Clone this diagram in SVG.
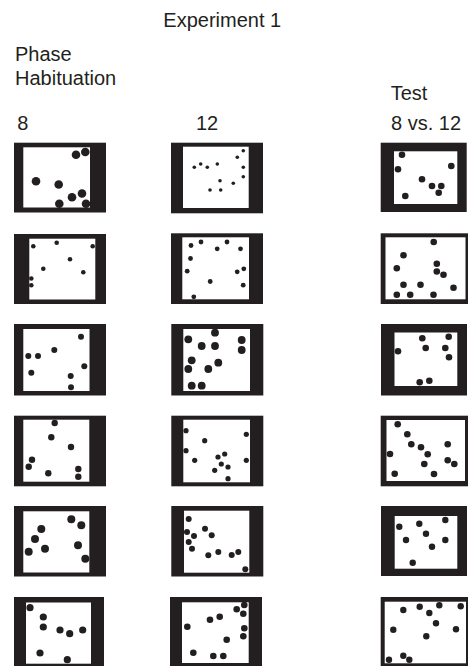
<svg xmlns="http://www.w3.org/2000/svg" width="468" height="666" viewBox="0 0 468 666">
<style>
.lbl{font-family:"Liberation Sans",Arial,Helvetica,sans-serif;font-size:20px;fill:#231f20}
.frame{fill:#231f20}
.field{fill:#ffffff}
.dot{fill:#231f20}
</style>
<rect width="468" height="666" fill="#ffffff"/>
<g id="labels">
<text class="lbl" x="163.3" y="26.5">Experiment 1</text>
<text class="lbl" x="15" y="61">Phase</text>
<text class="lbl" x="15" y="85">Habituation</text>
<text class="lbl" x="390.7" y="100">Test</text>
<text class="lbl" x="17.3" y="130">8</text>
<text class="lbl" x="196" y="130">12</text>
<text class="lbl" x="391" y="130">8 vs. 12</text>
</g>
<g id="connectors"/>
<!-- Row 1 -->
<g id="hab8-1">
<rect class="frame" x="14" y="142.7" width="92" height="69.8"/>
<rect class="field" x="23.3" y="147.3" width="66.7" height="60.2"/>
<circle class="dot" cx="76" cy="154.7" r="4.3"/><circle class="dot" cx="85.3" cy="152" r="4.3"/>
<circle class="dot" cx="36" cy="181.3" r="4.3"/><circle class="dot" cx="58.7" cy="184.5" r="4.3"/>
<circle class="dot" cx="82" cy="193.5" r="4.3"/><circle class="dot" cx="72" cy="197.2" r="4.3"/>
<circle class="dot" cx="59.3" cy="203.8" r="4.3"/><circle class="dot" cx="86" cy="203.8" r="4.3"/>
</g>
<g id="hab12-1">
<rect class="frame" x="171" y="142.7" width="92" height="70.6"/>
<rect class="field" x="183" y="146.7" width="65.7" height="61.3"/>
<circle class="dot" cx="194.3" cy="167.3" r="1.8"/><circle class="dot" cx="200.7" cy="164" r="1.8"/>
<circle class="dot" cx="207.3" cy="167.3" r="1.8"/><circle class="dot" cx="217.3" cy="164" r="1.8"/>
<circle class="dot" cx="237.3" cy="157.3" r="1.8"/><circle class="dot" cx="243.3" cy="150.7" r="1.8"/>
<circle class="dot" cx="243.3" cy="167.3" r="1.8"/><circle class="dot" cx="243.3" cy="176.7" r="1.8"/>
<circle class="dot" cx="220" cy="180.7" r="1.8"/><circle class="dot" cx="233.3" cy="183.3" r="1.8"/>
<circle class="dot" cx="210" cy="190" r="1.8"/><circle class="dot" cx="220.7" cy="190" r="1.8"/>
</g>
<g id="test-1">
<rect class="frame" x="380.7" y="142.7" width="86" height="69.3"/>
<rect class="field" x="394" y="151.3" width="63.3" height="52.7"/>
<circle class="dot" cx="402" cy="154.7" r="3.3"/><circle class="dot" cx="398" cy="169.3" r="3.3"/>
<circle class="dot" cx="451.3" cy="166" r="3.3"/><circle class="dot" cx="422" cy="179.3" r="3.3"/>
<circle class="dot" cx="432" cy="186" r="3.3"/><circle class="dot" cx="441.3" cy="186" r="3.3"/>
<circle class="dot" cx="438.7" cy="192.7" r="3.3"/><circle class="dot" cx="405.3" cy="196" r="3.3"/>
</g>
<!-- Row 2 -->
<g id="hab8-2">
<rect class="frame" x="14" y="234" width="92" height="70"/>
<rect class="field" x="29.3" y="238.7" width="66" height="60.8"/>
<circle class="dot" cx="33.3" cy="246.2" r="2.3"/><circle class="dot" cx="56.7" cy="242.7" r="2.3"/>
<circle class="dot" cx="92.7" cy="246.2" r="2.3"/><circle class="dot" cx="70" cy="259.2" r="2.3"/>
<circle class="dot" cx="43.3" cy="268.8" r="2.3"/><circle class="dot" cx="83.3" cy="272.2" r="2.3"/>
<circle class="dot" cx="31.3" cy="278.5" r="2.3"/><circle class="dot" cx="31.3" cy="285.2" r="2.3"/>
</g>
<g id="hab12-2">
<rect class="frame" x="171" y="233.3" width="92" height="70.7"/>
<rect class="field" x="182.3" y="237.3" width="66.7" height="62"/>
<circle class="dot" cx="191" cy="245.5" r="2.4"/><circle class="dot" cx="201" cy="242" r="2.4"/>
<circle class="dot" cx="227" cy="242" r="2.4"/><circle class="dot" cx="217.2" cy="248.8" r="2.4"/>
<circle class="dot" cx="240.5" cy="248.8" r="2.4"/><circle class="dot" cx="190.5" cy="258.5" r="2.4"/>
<circle class="dot" cx="187.2" cy="271.2" r="2.4"/><circle class="dot" cx="237.2" cy="271.8" r="2.4"/>
<circle class="dot" cx="243.8" cy="268.8" r="2.4"/><circle class="dot" cx="210.2" cy="281.5" r="2.4"/>
<circle class="dot" cx="243.2" cy="285.2" r="2.4"/><circle class="dot" cx="193.8" cy="296.8" r="2.4"/>
</g>
<g id="test-2">
<rect class="frame" x="380.7" y="233.3" width="87.3" height="70.7"/>
<rect class="field" x="385.5" y="237.3" width="80" height="62"/>
<circle class="dot" cx="433.7" cy="242" r="3.3"/><circle class="dot" cx="403.5" cy="255.2" r="3.3"/>
<circle class="dot" cx="396.8" cy="268.2" r="3.3"/><circle class="dot" cx="436.8" cy="263.8" r="3.3"/>
<circle class="dot" cx="436.8" cy="271.5" r="3.3"/><circle class="dot" cx="443.5" cy="274.8" r="3.3"/>
<circle class="dot" cx="403.5" cy="284.8" r="3.3"/><circle class="dot" cx="420.5" cy="284.8" r="3.3"/>
<circle class="dot" cx="453.5" cy="287.8" r="3.3"/><circle class="dot" cx="396.8" cy="294.8" r="3.3"/>
<circle class="dot" cx="410.2" cy="294.8" r="3.3"/><circle class="dot" cx="433.5" cy="294.8" r="3.3"/>
</g>
<!-- Row 3 -->
<g id="hab8-3">
<rect class="frame" x="14" y="324" width="92" height="71.5"/>
<rect class="field" x="23.3" y="329" width="66.2" height="62"/>
<circle class="dot" cx="81" cy="336.7" r="3"/><circle class="dot" cx="54.3" cy="350" r="3"/>
<circle class="dot" cx="28.3" cy="356" r="3"/><circle class="dot" cx="38" cy="356" r="3"/>
<circle class="dot" cx="84.3" cy="366.3" r="3"/><circle class="dot" cx="31.3" cy="372.7" r="3"/>
<circle class="dot" cx="70.7" cy="376" r="3"/><circle class="dot" cx="71" cy="387.3" r="3"/>
</g>
<g id="hab12-3">
<rect class="frame" x="171.3" y="324" width="92" height="71.5"/>
<rect class="field" x="183.3" y="329" width="66.7" height="62"/>
<circle class="dot" cx="215" cy="332.7" r="3.9"/><circle class="dot" cx="188.3" cy="339.3" r="3.9"/>
<circle class="dot" cx="241.7" cy="340" r="3.9"/><circle class="dot" cx="201.7" cy="346" r="3.9"/>
<circle class="dot" cx="215" cy="346" r="3.9"/><circle class="dot" cx="241.7" cy="350" r="3.9"/>
<circle class="dot" cx="191.7" cy="360.3" r="3.9"/><circle class="dot" cx="218.3" cy="362.7" r="3.9"/>
<circle class="dot" cx="188.3" cy="369" r="3.9"/><circle class="dot" cx="208.3" cy="369" r="3.9"/>
<circle class="dot" cx="191.7" cy="385.7" r="3.9"/><circle class="dot" cx="201.7" cy="385.7" r="3.9"/>
</g>
<g id="test-3">
<rect class="frame" x="381" y="324" width="86" height="71.5"/>
<rect class="field" x="394.5" y="332.5" width="62.8" height="53.5"/>
<circle class="dot" cx="422.3" cy="338.3" r="3.3"/><circle class="dot" cx="448.7" cy="336.7" r="3.3"/>
<circle class="dot" cx="398" cy="351.3" r="3.3"/><circle class="dot" cx="425.7" cy="348" r="3.3"/>
<circle class="dot" cx="445.3" cy="348" r="3.3"/><circle class="dot" cx="449" cy="357.3" r="3.3"/>
<circle class="dot" cx="419.7" cy="382.3" r="3.3"/><circle class="dot" cx="429.3" cy="380.7" r="3.3"/>
</g>
<!-- Row 4 -->
<g id="hab8-4">
<rect class="frame" x="14" y="415.7" width="92" height="70.6"/>
<rect class="field" x="23.3" y="419.7" width="66" height="62"/>
<circle class="dot" cx="54.7" cy="423" r="3.2"/><circle class="dot" cx="51.3" cy="437.3" r="3.2"/>
<circle class="dot" cx="71" cy="447" r="3.2"/><circle class="dot" cx="32" cy="459.7" r="3.2"/>
<circle class="dot" cx="28.7" cy="466.7" r="3.2"/><circle class="dot" cx="48.3" cy="473.3" r="3.2"/>
<circle class="dot" cx="78.3" cy="469" r="3.2"/><circle class="dot" cx="78.3" cy="476.7" r="3.2"/>
</g>
<g id="hab12-4">
<rect class="frame" x="171.3" y="415.7" width="92" height="70.6"/>
<rect class="field" x="183.3" y="419.7" width="66.7" height="62.6"/>
<circle class="dot" cx="186" cy="430.7" r="2.6"/><circle class="dot" cx="204.7" cy="440.7" r="2.6"/>
<circle class="dot" cx="246.3" cy="434.3" r="2.6"/><circle class="dot" cx="186" cy="450.7" r="2.6"/>
<circle class="dot" cx="194.7" cy="460.3" r="2.6"/><circle class="dot" cx="218" cy="457" r="2.6"/>
<circle class="dot" cx="224.7" cy="454" r="2.6"/><circle class="dot" cx="221.3" cy="464" r="2.6"/>
<circle class="dot" cx="228" cy="467" r="2.6"/><circle class="dot" cx="214.7" cy="470.3" r="2.6"/>
<circle class="dot" cx="246.3" cy="460.3" r="2.6"/><circle class="dot" cx="228" cy="478.7" r="2.6"/>
</g>
<g id="test-4">
<rect class="frame" x="380.7" y="415.7" width="87.3" height="70.6"/>
<rect class="field" x="386.5" y="420" width="78.5" height="61"/>
<circle class="dot" cx="397.7" cy="424.3" r="3.3"/><circle class="dot" cx="407.3" cy="434.3" r="3.3"/>
<circle class="dot" cx="411.3" cy="444.3" r="3.3"/><circle class="dot" cx="421" cy="447.3" r="3.3"/>
<circle class="dot" cx="427.7" cy="454.3" r="3.3"/><circle class="dot" cx="390" cy="454" r="3.3"/>
<circle class="dot" cx="424.3" cy="464" r="3.3"/><circle class="dot" cx="447.7" cy="444.3" r="3.3"/>
<circle class="dot" cx="447.7" cy="460.3" r="3.3"/><circle class="dot" cx="454.3" cy="464" r="3.3"/>
<circle class="dot" cx="394.7" cy="473.7" r="3.3"/><circle class="dot" cx="434" cy="474" r="3.3"/>
</g>
<!-- Row 5 -->
<g id="hab8-5">
<rect class="frame" x="14" y="506" width="92" height="70.5"/>
<rect class="field" x="23.3" y="511.3" width="66" height="61.2"/>
<circle class="dot" cx="71.3" cy="519.3" r="4"/><circle class="dot" cx="81.3" cy="525.3" r="4"/>
<circle class="dot" cx="41.3" cy="529" r="4"/><circle class="dot" cx="35" cy="539" r="4"/>
<circle class="dot" cx="28.7" cy="551.7" r="4"/><circle class="dot" cx="45" cy="548.7" r="4"/>
<circle class="dot" cx="78" cy="545.3" r="4"/><circle class="dot" cx="85.3" cy="558.7" r="4"/>
</g>
<g id="hab12-5">
<rect class="frame" x="171.3" y="506" width="92" height="70.5"/>
<rect class="field" x="184" y="510.7" width="65.3" height="62"/>
<circle class="dot" cx="188.7" cy="519" r="3"/><circle class="dot" cx="205" cy="528.7" r="3"/>
<circle class="dot" cx="187" cy="532" r="3"/><circle class="dot" cx="194" cy="536" r="3"/>
<circle class="dot" cx="211.7" cy="535.3" r="3"/><circle class="dot" cx="188.7" cy="542" r="3"/>
<circle class="dot" cx="192" cy="548.7" r="3"/><circle class="dot" cx="208.3" cy="555.3" r="3"/>
<circle class="dot" cx="218.3" cy="552" r="3"/><circle class="dot" cx="231.7" cy="555" r="3"/>
<circle class="dot" cx="238.3" cy="552" r="3"/><circle class="dot" cx="245.3" cy="569.3" r="3"/>
</g>
<g id="test-5">
<rect class="frame" x="381" y="506" width="86" height="70"/>
<rect class="field" x="394.7" y="516" width="62.6" height="52.7"/>
<circle class="dot" cx="399.3" cy="526.7" r="3.2"/><circle class="dot" cx="419.3" cy="523.7" r="3.2"/>
<circle class="dot" cx="445.3" cy="520" r="3.2"/><circle class="dot" cx="426" cy="533.7" r="3.2"/>
<circle class="dot" cx="406" cy="540" r="3.2"/><circle class="dot" cx="445.3" cy="540" r="3.2"/>
<circle class="dot" cx="432" cy="546.7" r="3.2"/><circle class="dot" cx="412.7" cy="562.7" r="3.2"/>
</g>
<!-- Row 6 -->
<g id="hab8-6">
<rect class="frame" x="14" y="597" width="90" height="69"/>
<rect class="field" x="26" y="602.5" width="65" height="61.2"/>
<circle class="dot" cx="30" cy="607.7" r="3.6"/><circle class="dot" cx="43.3" cy="617" r="3.6"/>
<circle class="dot" cx="43.3" cy="627" r="3.6"/><circle class="dot" cx="60" cy="630" r="3.6"/>
<circle class="dot" cx="69.7" cy="633.7" r="3.6"/><circle class="dot" cx="82.7" cy="630" r="3.6"/>
<circle class="dot" cx="40" cy="653" r="3.6"/><circle class="dot" cx="67.3" cy="659.7" r="3.6"/>
</g>
<g id="hab12-6">
<rect class="frame" x="170" y="597" width="92" height="69"/>
<rect class="field" x="182" y="602.3" width="66.7" height="60.7"/>
<circle class="dot" cx="244.3" cy="605" r="3.3"/><circle class="dot" cx="236.7" cy="609.3" r="3.3"/>
<circle class="dot" cx="243.3" cy="613.7" r="3.3"/><circle class="dot" cx="219.7" cy="616.7" r="3.3"/>
<circle class="dot" cx="210" cy="619.7" r="3.3"/><circle class="dot" cx="187.3" cy="626.7" r="3.3"/>
<circle class="dot" cx="244.3" cy="628.3" r="3.3"/><circle class="dot" cx="243.3" cy="636.3" r="3.3"/>
<circle class="dot" cx="226.7" cy="639.7" r="3.3"/><circle class="dot" cx="193.3" cy="652.7" r="3.3"/>
<circle class="dot" cx="213.3" cy="656" r="3.3"/><circle class="dot" cx="223.3" cy="656" r="3.3"/>
</g>
<g id="test-6">
<rect class="frame" x="380.7" y="597" width="87.3" height="69"/>
<rect class="field" x="384.7" y="601.7" width="81.3" height="61.6"/>
<circle class="dot" cx="403.3" cy="610" r="3.2"/><circle class="dot" cx="419.7" cy="606.7" r="3.2"/>
<circle class="dot" cx="439.3" cy="605.3" r="3.2"/><circle class="dot" cx="460.7" cy="606.3" r="3.2"/>
<circle class="dot" cx="429.3" cy="613" r="3.2"/><circle class="dot" cx="436" cy="623.3" r="3.2"/>
<circle class="dot" cx="393.3" cy="629.7" r="3.2"/><circle class="dot" cx="456" cy="629.3" r="3.2"/>
<circle class="dot" cx="426.3" cy="636.3" r="3.2"/><circle class="dot" cx="389" cy="659.7" r="3.2"/>
<circle class="dot" cx="403.3" cy="655.7" r="3.2"/><circle class="dot" cx="409.3" cy="659.7" r="3.2"/>
</g>
</svg>
